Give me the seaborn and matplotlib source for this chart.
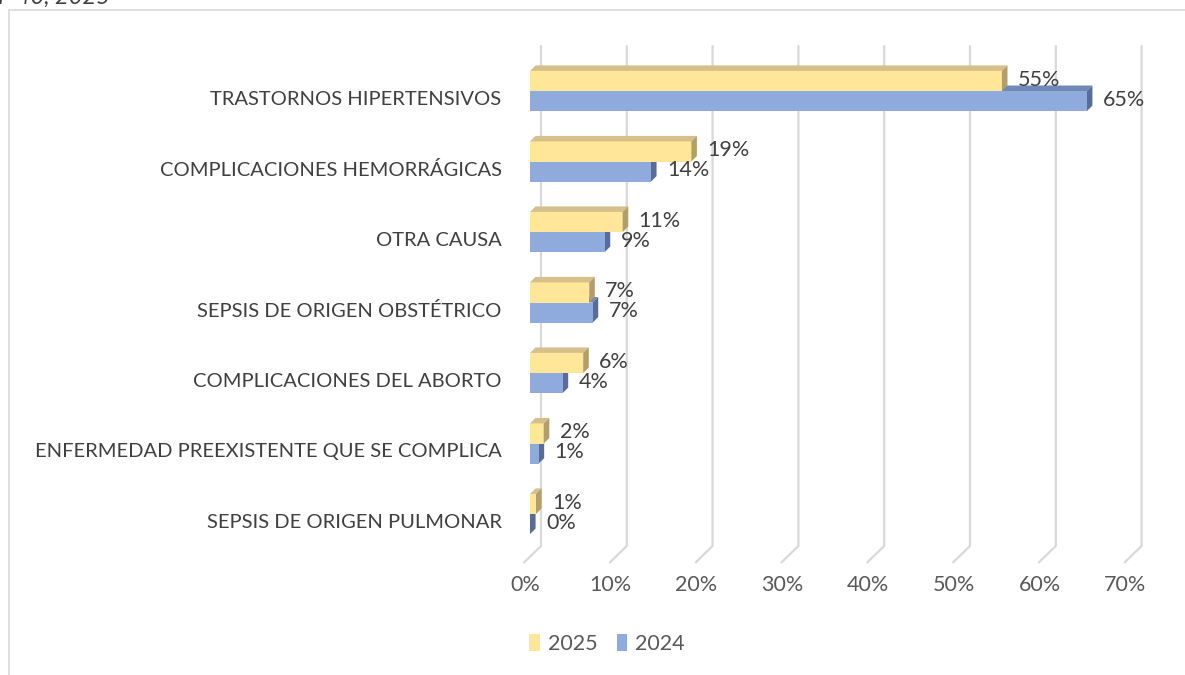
import matplotlib
matplotlib.use("Agg")
import matplotlib.pyplot as plt
import matplotlib.transforms as mtransforms
from matplotlib.patches import Polygon, Patch, Rectangle
import seaborn as sns
import pandas as pd

categories = [
    "TRASTORNOS HIPERTENSIVOS",
    "COMPLICACIONES HEMORRÁGICAS",
    "OTRA CAUSA",
    "SEPSIS DE ORIGEN OBSTÉTRICO",
    "COMPLICACIONES DEL ABORTO",
    "ENFERMEDAD PREEXISTENTE QUE SE COMPLICA",
    "SEPSIS DE ORIGEN PULMONAR",
]
values_2025 = [55.0, 18.8, 10.8, 6.9, 6.2, 1.6, 0.7]
values_2024 = [64.9, 14.1, 8.7, 7.3, 3.8, 1.0, 0.0]
years = ["2025", "2024"]
x_ticks = [0, 10, 20, 30, 40, 50, 60, 70]
title_text = "P 40, 2025"

front = {"2025": "#FFE699", "2024": "#8FAADC"}
topc = {"2025": "#D4C088", "2024": "#7089B8"}
sidec = {"2025": "#B09E6C", "2024": "#586C96"}

sns.set_theme(style="white")
plt.rcParams["font.family"] = ["Lato", "DejaVu Sans"]

df = pd.DataFrame({
    "cat": categories * 2,
    "val": values_2025 + values_2024,
    "year": ["2025"] * len(categories) + ["2024"] * len(categories),
})

W, H = 1185, 675
fig = plt.figure(figsize=(W / 100, H / 100), dpi=100)
ppu = 8.58
xlo, xhi = -2.5, 72.5
ax_left = 530 + xlo * ppu
ax_w = (xhi - xlo) * ppu
ytop_px, ybot_px = 40, 570
ylo = (ybot_px - 91) / 70.5
yhi = (ytop_px - 91) / 70.5
ax = fig.add_axes([ax_left / W, 1 - ybot_px / H, ax_w / W, (ybot_px - ytop_px) / H])

sns.barplot(data=df, y="cat", x="val", hue="year", hue_order=years,
            palette=front, width=0.57, orient="h", ax=ax, legend=False,
            saturation=1, linewidth=0)
ax.set_xlim(xlo, xhi)
ax.set_ylim(ylo, yhi)
for s in ax.spines.values():
    s.set_visible(False)
ax.set_xlabel("")
ax.set_ylabel("")
ax.set_xticks([])

NUM_FS = 15.5
CAT_FS = 14.5

dx = 0.65
dy = 0.078
grid_top = -0.65
grid_bot = (546 - 91) / 70.5
diag_bot = (563 - 91) / 70.5
back_off = 1.28
xform = mtransforms.blended_transform_factory(ax.transData, mtransforms.IdentityTransform())
for v in x_ticks:
    ax.plot([v + back_off, v + back_off, v - 0.76], [grid_top, grid_bot, diag_bot],
            color="#D9D9D9", lw=1.6, zorder=0, solid_capstyle="butt", clip_on=False)
    ax.text(v - 0.6, H - 585, f"{v}%", transform=xform, ha="center", va="center",
            fontsize=NUM_FS, color="#595959")

for cont, yr, vals in zip(ax.containers, years, [values_2025, values_2024]):
    for bar, v in zip(cont, vals):
        bar.set_zorder(2.0 if yr == "2025" else 3.0)
        x0 = bar.get_x()
        w = bar.get_width()
        y0 = bar.get_y()
        h = bar.get_height()
        top = Polygon([(x0, y0), (x0 + w, y0), (x0 + w + dx, y0 - dy), (x0 + dx, y0 - dy)],
                      closed=True, facecolor=topc[yr], edgecolor="none",
                      zorder=1.0 if yr == "2024" else 2.2)
        side = Polygon([(x0 + w, y0), (x0 + w, y0 + h), (x0 + w + dx, y0 + h - dy),
                        (x0 + w + dx, y0 - dy)], closed=True, facecolor=sidec[yr],
                       edgecolor="none", zorder=1.1 if yr == "2024" else 2.3)
        ax.add_patch(top)
        ax.add_patch(side)
        ax.text(x0 + w + 1.86, y0 + h / 2 - 0.02, f"{v:.0f}%", ha="left", va="center",
                fontsize=NUM_FS, color="#404040", zorder=5)

ax.set_yticks(range(len(categories)))
ax.set_yticklabels(categories)
ax.tick_params(axis="y", length=0, pad=5, labelsize=CAT_FS, labelcolor="#404040")
off = mtransforms.ScaledTranslation(0, -7 / 100, fig.dpi_scale_trans)
for lab in ax.get_yticklabels():
    lab.set_transform(lab.get_transform() + off)

handles = [Patch(facecolor=front[y], edgecolor="none", label=y) for y in years]
leg = fig.legend(handles=handles, loc="center", bbox_to_anchor=(607 / W, 1 - 644 / H),
                 ncol=2, frameon=False, fontsize=NUM_FS, handlelength=0.5,
                 handleheight=0.8, handletextpad=0.35, columnspacing=0.9)
for t in leg.get_texts():
    t.set_color("#595959")

fig.patches.append(Rectangle((8.5 / W, -0.1), 1.2, (H - 10.5) / H + 0.1,
                             transform=fig.transFigure, facecolor="none",
                             edgecolor="#D9D9D9", lw=1.2, zorder=0))
fig.text(-2 / W, 1 - 4 / H, title_text, ha="left", va="baseline", fontsize=17,
         style="italic", color="#404040")

fig.savefig("out.png", dpi=100)
